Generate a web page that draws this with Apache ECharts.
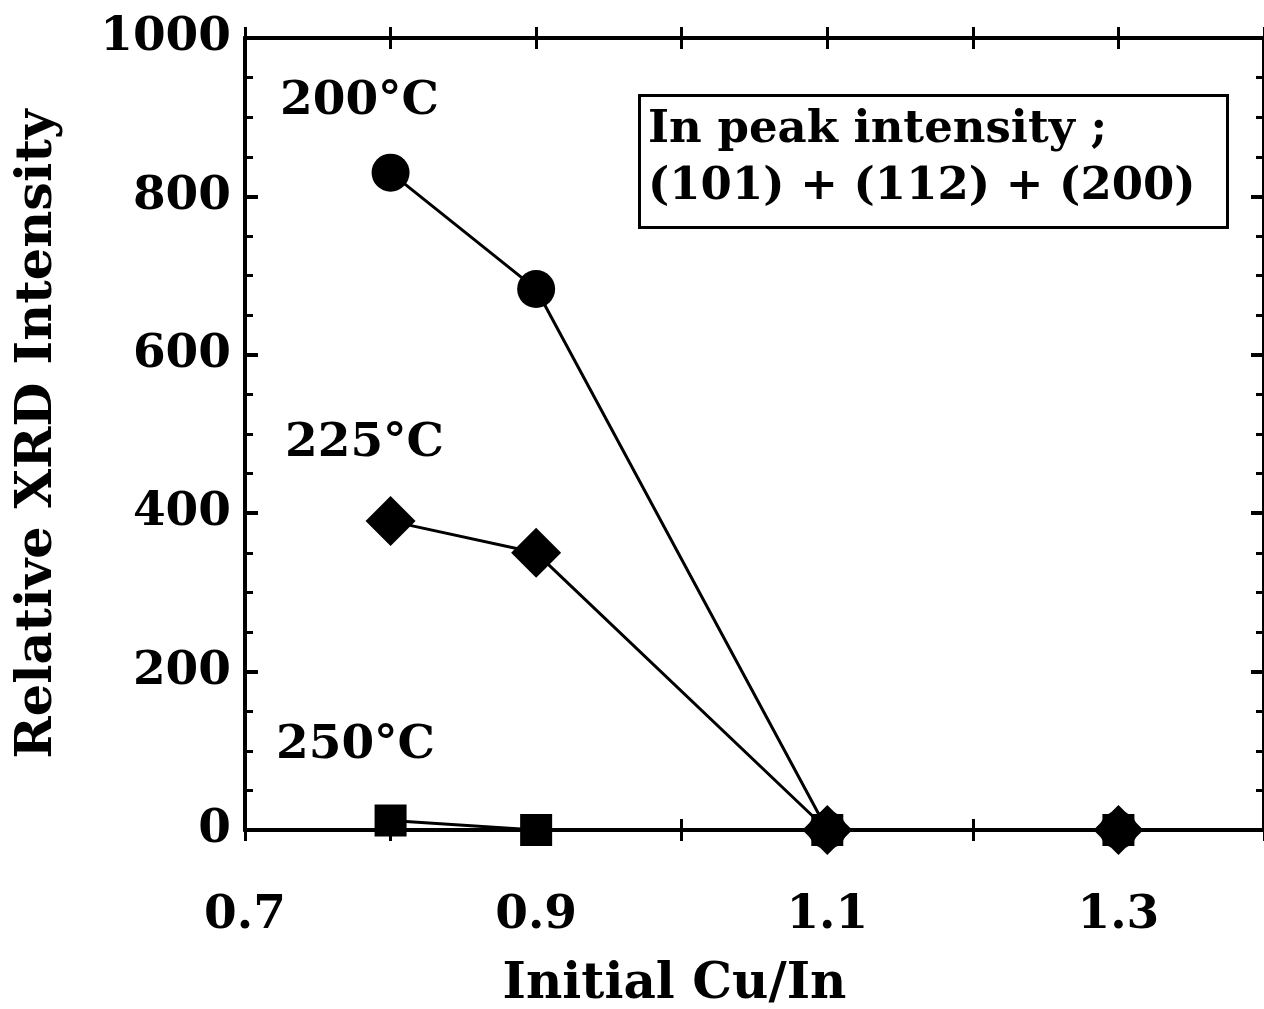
<!DOCTYPE html>
<html>
<head>
<meta charset="utf-8">
<script src="https://cdn.jsdelivr.net/npm/echarts@6/dist/echarts.min.js"></script>
<style>
  html, body { margin: 0; padding: 0; background: #fff; }
  #chart { width: 1264px; height: 1009px; }
</style>
</head>
<body>
<div id="chart"></div>
<script>
// Initial Cu/In ratio of each sample
const cuInRatio = [0.8, 0.9, 1.1, 1.3];
// Relative XRD intensity of In peaks, (101)+(112)+(200), per growth temperature
const intensity200 = [830, 683, 0, 0];
const intensity225 = [390, 350, 0, 0];
const intensity250 = [12, 0, 0, 0];

const xTicks = { min: 0.7, max: 1.4, interval: 0.1 };
const xLabelled = [0.7, 0.9, 1.1, 1.3];
const yTicks = { min: 0, max: 1000, interval: 200 };

const FONT = 'DejaVu Serif';
const INK = '#000';

function pairs(xs, ys) { return xs.map((x, i) => [x, ys[i]]); }

const gridBox = { left: 245, right: 0, top: 38, bottom: 179, outerBoundsMode: 'none', containLabel: false };

function xAxisBase(grid, position, inside, showLabel) {
  return {
    type: 'value', gridIndex: grid, position: position,
    min: xTicks.min, max: xTicks.max, interval: xTicks.interval,
    axisLine: { show: true, onZero: false, lineStyle: { color: INK, width: 4 } },
    axisTick: { show: true, inside: inside, length: 11, lineStyle: { color: INK, width: 3 } },
    splitLine: { show: false },
    axisLabel: {
      show: showLabel, margin: 62, color: INK, fontFamily: FONT, fontWeight: 'bold', fontSize: 47,
      formatter: v => xLabelled.some(t => Math.abs(v - t) < 1e-6) ? v.toFixed(1) : ''
    }
  };
}

function yAxisBase(grid, position, showLabel) {
  return {
    type: 'value', gridIndex: grid, position: position,
    min: yTicks.min, max: yTicks.max, interval: yTicks.interval,
    axisLine: { show: true, onZero: false, lineStyle: { color: INK, width: 4 } },
    axisTick: { show: true, inside: true, length: 13, lineStyle: { color: INK, width: 4 } },
    minorTick: { show: true, splitNumber: 4, length: 8, lineStyle: { color: INK, width: 3 } },
    splitLine: { show: false },
    minorSplitLine: { show: false },
    axisLabel: {
      show: showLabel, margin: 14, color: INK, fontFamily: FONT, fontWeight: 'bold', fontSize: 47,
      formatter: v => String(v)
    }
  };
}

const xAxes = [
  Object.assign(xAxisBase(0, 'bottom', false, true), {
    name: 'Initial Cu/In', nameLocation: 'middle', nameGap: 130,
    nameTextStyle: { color: INK, fontFamily: FONT, fontWeight: 'bold', fontSize: 50, padding: [0, 160, 0, 0] }
  }),
  xAxisBase(0, 'top', false, false),
  xAxisBase(1, 'bottom', true, false),
  xAxisBase(1, 'top', true, false)
];

const yAxes = [
  Object.assign(yAxisBase(0, 'left', true), {
    name: 'Relative XRD Intensity', nameLocation: 'middle', nameGap: 182, nameRotate: 90,
    nameTextStyle: { color: INK, fontFamily: FONT, fontWeight: 'bold', fontSize: 51 }
  }),
  yAxisBase(0, 'right', false),
  Object.assign(yAxisBase(1, 'left', false), { axisTick: { show: false }, minorTick: { show: false } })
];

function lineSeries(name, data, symbol, size) {
  return {
    name: name, type: 'line', xAxisIndex: 0, yAxisIndex: 0,
    data: pairs(cuInRatio, data),
    symbol: symbol, symbolSize: size, showSymbol: true,
    lineStyle: { color: INK, width: 3 },
    itemStyle: { color: INK, borderColor: INK, borderWidth: 0 },
    animation: false
  };
}

const textStyle = { fill: INK, font: 'bold 47px "DejaVu Serif"' };

const option = {
  backgroundColor: '#fff',
  animation: false,
  grid: [Object.assign({}, gridBox), Object.assign({}, gridBox)],
  xAxis: xAxes,
  yAxis: yAxes,
  series: [
    lineSeries('200°C', intensity200, 'circle', 38),
    lineSeries('225°C', intensity225, 'diamond', 50),
    lineSeries('250°C', intensity250, 'rect', 32)
  ],
  graphic: [
    { type: 'text', left: 280, top: 78, style: Object.assign({ text: '200°C' }, textStyle) },
    { type: 'text', left: 285, top: 420, style: Object.assign({ text: '225°C' }, textStyle) },
    { type: 'text', left: 276, top: 722, style: Object.assign({ text: '250°C' }, textStyle) },
    {
      type: 'rect', left: 638, top: 94,
      shape: { width: 588, height: 132 },
      style: { fill: '#fff', stroke: INK, lineWidth: 3 }
    },
    {
      type: 'text', left: 648, top: 102,
      style: { text: 'In peak intensity ;\n(101) + (112) + (200)', fill: INK,
               font: 'bold 45px "DejaVu Serif"', lineHeight: 57 }
    }
  ]
};

const chart = echarts.init(document.getElementById('chart'), null, { renderer: 'canvas' });
chart.setOption(option);
</script>
</body>
</html>
